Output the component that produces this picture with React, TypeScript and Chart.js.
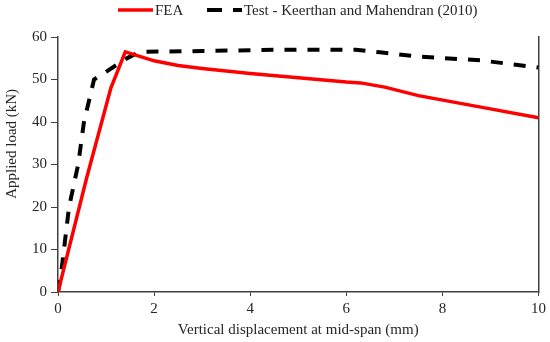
import React, { useEffect, useRef } from "react";
import { Chart, registerables } from "chart.js";

Chart.register(...registerables);

const feaX = [0, 0.6, 1.1, 1.4, 2, 2.5, 3, 4, 5, 6, 6.3, 6.8, 7.5, 8.8, 10];
const feaY = [0, 27, 48, 56.5, 54.4, 53.3, 52.6, 51.4, 50.4, 49.4, 49.2, 48.2, 46.2, 43.5, 41];
const testX = [0, 0.05, 0.23, 0.42, 0.54, 0.75, 1.0, 1.4, 1.7, 3, 4.5, 6.2, 6.7, 7.5, 8.8, 10];
const testY = [0, 3, 20, 30, 40, 50, 51.8, 54.8, 56.5, 56.7, 57, 57, 56.4, 55.4, 54.5, 52.8];
const xTicks = [0, 2, 4, 6, 8, 10];
const yTicks = [0, 10, 20, 30, 40, 50, 60];
const seriesNames = ["FEA", "Test - Keerthan and Mahendran (2010)"];
const xTitle = "Vertical displacement at mid-span (mm)";
const yTitle = "Applied load (kN)";

const FONT = "'Liberation Serif', 'Times New Roman', serif";
const TEXT = "#262626";
const AXIS = "#404040";

export default function App() {
  const ref = useRef<HTMLCanvasElement | null>(null);
  useEffect(() => {
    if (!ref.current) return;
    const customLegend = {
      id: "customLegend",
      afterDraw(chart: any) {
        const ctx = chart.ctx;
        const items = [
          { x: 118, dash: [] as number[], color: "#ff0000", width: 3.5 },
          { x: 207, dash: [15, 11], color: "#000000", width: 4 },
        ];
        const y = 10;
        ctx.save();
        ctx.font = `15px ${FONT}`;
        ctx.textBaseline = "middle";
        ctx.textAlign = "left";
        items.forEach((it, i) => {
          const ds = chart.data.datasets[i];
          ctx.beginPath();
          ctx.setLineDash(it.dash);
          ctx.lineWidth = it.width;
          ctx.strokeStyle = ds.borderColor;
          ctx.moveTo(it.x, y);
          ctx.lineTo(it.x + 35, y);
          ctx.stroke();
          ctx.setLineDash([]);
          ctx.fillStyle = TEXT;
          ctx.fillText(ds.label, it.x + 37, y + 1);
        });
        ctx.restore();
      },
    };
    const chart = new Chart(ref.current, {
      type: "line",
      data: {
        datasets: [
          {
            label: seriesNames[0],
            data: feaX.map((x, i) => ({ x, y: feaY[i] })),
            borderColor: "#ff0000",
            backgroundColor: "#ff0000",
            borderWidth: 3.5,
            pointRadius: 0,
            tension: 0,
            order: 0,
          },
          {
            label: seriesNames[1],
            data: testX.map((x, i) => ({ x, y: testY[i] })),
            borderColor: "#000000",
            backgroundColor: "#000000",
            borderWidth: 4,
            borderDash: [12, 11],
            pointRadius: 0,
            tension: 0,
            order: 1,
          },
        ],
      },
      options: {
        animation: false,
        responsive: false,
        maintainAspectRatio: false,
        layout: { padding: { left: 0, right: 11, top: 37, bottom: 0 } },
        plugins: {
          legend: { display: false },
          tooltip: { enabled: false },
        },
        scales: {
          x: {
            type: "linear",
            min: 0,
            max: 10,
            afterFit(s: any) {
              s.height = 50;
            },
            afterBuildTicks(s: any) {
              s.ticks = xTicks.map((v) => ({ value: v }));
            },
            ticks: { color: TEXT, font: { family: FONT, size: 15 }, padding: 4, maxRotation: 0 },
            grid: { drawOnChartArea: false, drawTicks: true, tickLength: 4, color: AXIS },
            border: { color: AXIS, width: 1.5 },
            title: {
              display: true,
              text: xTitle,
              color: TEXT,
              font: { family: FONT, size: 15 },
              padding: { top: 0, bottom: 3 },
            },
          },
          y: {
            type: "linear",
            min: 0,
            max: 60,
            afterFit(s: any) {
              s.width = 58;
            },
            afterBuildTicks(s: any) {
              s.ticks = yTicks.map((v) => ({ value: v }));
            },
            ticks: { color: TEXT, font: { family: FONT, size: 15 }, padding: 4 },
            grid: { drawOnChartArea: false, drawTicks: true, tickLength: 7, color: AXIS },
            border: { color: AXIS, width: 1.5 },
            title: {
              display: true,
              text: "           " + yTitle,
              color: TEXT,
              font: { family: FONT, size: 15 },
              padding: { top: 3, bottom: 0 },
            },
          },
          y2: {
            type: "linear",
            position: "right",
            min: 0,
            max: 60,
            afterFit(s: any) {
              s.width = 0;
            },
            ticks: { display: false },
            grid: { display: false },
            border: { color: AXIS, width: 1.5 },
          },
        },
      },
      plugins: [customLegend],
    });
    return () => chart.destroy();
  }, []);
  return (
    <div style={{ position: "fixed", left: 0, top: 0, width: 550, height: 342, background: "#fff" }}>
      <canvas ref={ref} width={550} height={342} style={{ width: 550, height: 342 }} />
    </div>
  );
}
